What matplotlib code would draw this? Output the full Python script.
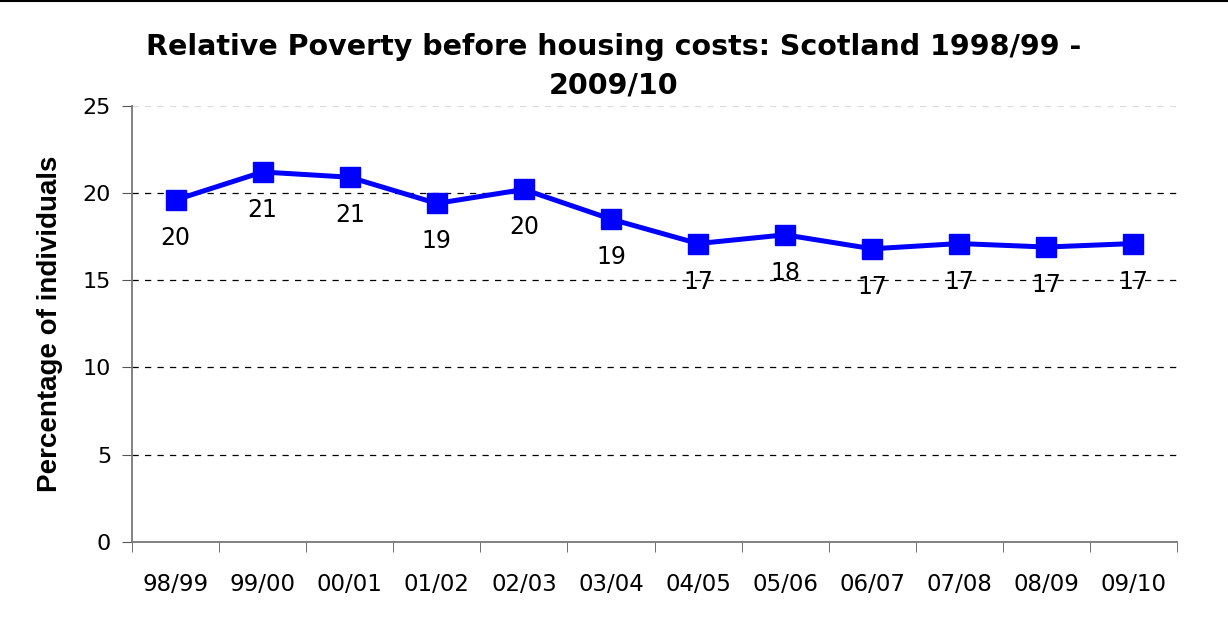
import matplotlib.pyplot as plt

plt.rcParams['font.family'] = ['DejaVu Sans']

years = ['98/99', '99/00', '00/01', '01/02', '02/03', '03/04',
         '04/05', '05/06', '06/07', '07/08', '08/09', '09/10']
poverty = [19.6, 21.2, 20.9, 19.4, 20.2, 18.5, 17.1, 17.6, 16.8, 17.1, 16.9, 17.1]
labels = ['20', '21', '21', '19', '20', '19', '17', '18', '17', '17', '17', '17']
yticks = [0, 5, 10, 15, 20, 25]

fig = plt.figure(figsize=(12.28, 6.32), dpi=100)
ax = fig.add_axes([0.1075, 0.1424, 0.851, 0.6904])

x = list(range(len(years)))
ax.plot(x, poverty, color='#0000ff', linewidth=3.6, marker='s', markersize=14,
        markerfacecolor='#0000ff', markeredgecolor='#0000ff', zorder=3)

for xi, yi, lab in zip(x, poverty, labels):
    ax.annotate(lab, (xi, yi), xytext=(0, -38), textcoords='offset pixels',
                ha='center', va='center', fontsize=17, color='black', zorder=4)

ax.set_xlim(-0.5, len(years) - 0.5)
ax.set_ylim(0, 25)
ax.set_yticks(yticks)
ax.set_yticklabels([str(t) for t in yticks], fontsize=16)
ax.set_xticks(x)
ax.set_xticklabels(years, fontsize=16.5)
ax.set_xticks([i - 0.5 for i in range(len(years) + 1)], minor=True)
ax.tick_params(axis='x', which='major', length=0, pad=22)
ax.tick_params(axis='x', which='minor', length=7, direction='out', color='#555555')
ax.tick_params(axis='y', length=7, direction='out', color='#555555', pad=8)

for t in yticks[1:-1]:
    ax.axhline(t, color='black', linewidth=0.9, linestyle=(0, (5, 5)), zorder=1)
ax.axhline(25, color='#dddddd', linewidth=0.9, linestyle=(0, (5, 5)), zorder=1)

for s in ['top', 'right']:
    ax.spines[s].set_visible(False)
for s in ['left', 'bottom']:
    ax.spines[s].set_color('#777777')
    ax.spines[s].set_linewidth(1.3)

ax.set_ylabel('Percentage of individuals', fontsize=20, fontweight='bold',
              family='Liberation Sans', labelpad=14)

fig.text(0.5, 0.895, 'Relative Poverty before housing costs: Scotland 1998/99 -\n2009/10',
         ha='center', va='center', fontsize=20.5, fontweight='bold', linespacing=1.45)

# thin frame line along the top edge
fig.add_artist(plt.Line2D([0, 1], [0.998, 0.998], color='black', linewidth=1.5,
                          transform=fig.transFigure))

fig.savefig('out.png', dpi=100)
